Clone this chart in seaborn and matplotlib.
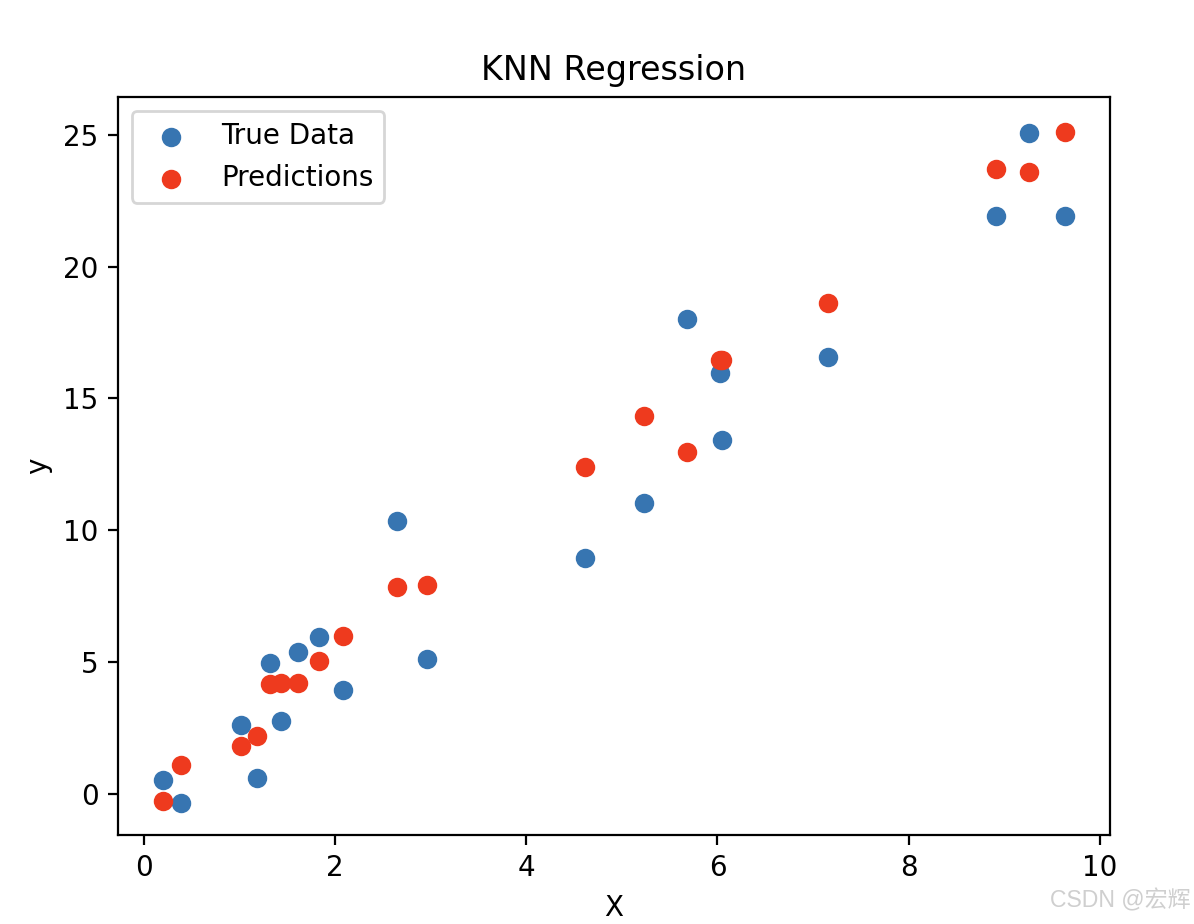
import numpy as np
import pandas as pd
import matplotlib
matplotlib.use("Agg")
import matplotlib.pyplot as plt
import seaborn as sns

# Data
x_vals = [0.204, 0.396, 1.016, 1.186, 1.319, 1.437, 1.615, 1.835, 2.085, 2.647, 2.964,
          4.615, 5.231, 5.682, 6.027, 6.048, 7.156, 8.912, 9.257, 9.633]
y_true = [0.53, -0.35, 2.62, 0.60, 4.99, 2.76, 5.37, 5.94, 3.93, 10.34, 5.11,
          8.97, 11.05, 18.02, 15.96, 13.44, 16.58, 21.91, 25.07, 21.91]
y_pred = [-0.27, 1.10, 1.81, 2.19, 4.17, 4.20, 4.20, 5.03, 5.99, 7.84, 7.92,
          12.42, 14.35, 12.98, 16.44, 16.46, 18.63, 23.70, 23.59, 25.10]
series_labels = ["True Data", "Predictions"]
colors = ["#3775b1", "#ee3a1e"]

W, H, DPI = 1194, 924, 200
fig = plt.figure(figsize=(W / DPI, H / DPI), dpi=DPI)
ax = fig.add_axes([118 / W, (H - 835) / H, 992 / W, 738 / H])

df_true = pd.DataFrame({"X": x_vals, "y": y_true})
df_pred = pd.DataFrame({"X": x_vals, "y": y_pred})

sns.scatterplot(data=df_true, x="X", y="y", ax=ax, color=colors[0], s=36,
                linewidth=1.0, edgecolor="face", label=series_labels[0])
sns.scatterplot(data=df_pred, x="X", y="y", ax=ax, color=colors[1], s=36,
                linewidth=1.0, edgecolor="face", label=series_labels[1])

ax.set_title("KNN Regression", fontsize=12)
ax.set_xlabel("X")
ax.set_ylabel("y")
ax.set_xticks([0, 2, 4, 6, 8, 10])
ax.set_yticks([0, 5, 10, 15, 20, 25])
ax.set_ylim(-1.55, 26.43)
ax.legend(loc="upper left")

fig.text(0.997, 0.012, "CSDN @宏辉", ha="right", va="bottom", fontsize=8.3,
         color="#cfcfcf", family=["Liberation Sans", "Noto Sans CJK SC"])

fig.savefig("out.png", dpi=DPI)
